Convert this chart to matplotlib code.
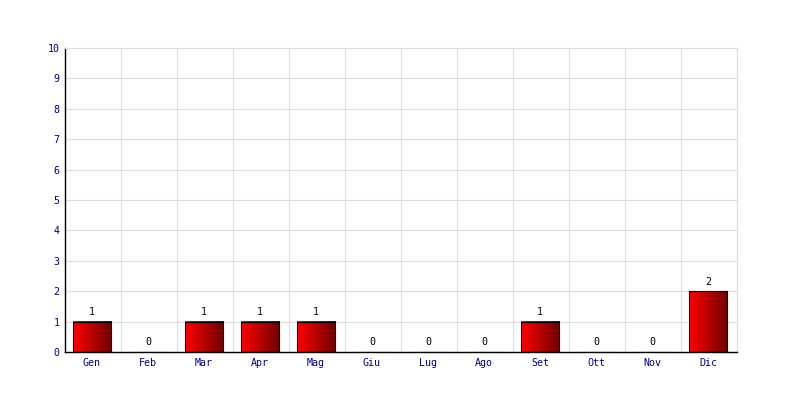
import numpy as np
import matplotlib.pyplot as plt
from matplotlib.colors import LinearSegmentedColormap

months = ["Gen", "Feb", "Mar", "Apr", "Mag", "Giu", "Lug", "Ago", "Set", "Ott", "Nov", "Dic"]
counts = [1, 0, 1, 1, 1, 0, 0, 0, 1, 0, 0, 2]
yticks = list(range(0, 11))

plt.rcParams['font.family'] = ['DejaVu Sans Mono']

fig = plt.figure(figsize=(8, 4), dpi=100)
ax = fig.add_axes([65 / 800, 48 / 400, 672 / 800, 304 / 400])

x = np.arange(len(months))
width = 0.68
grad = LinearSegmentedColormap.from_list("redgrad", ["#ff0000", "#700000"])
g = np.linspace(0, 1, 64).reshape(1, -1)

# bars sit a pixel left of the category centre in the original
bars = ax.bar(x - 0.02, counts, width=width, color="none", edgecolor="black", linewidth=0.8, zorder=3)
for b, v in zip(bars, counts):
    if v > 0:
        x0 = b.get_x()
        ax.imshow(g, cmap=grad, aspect="auto", extent=(x0, x0 + b.get_width(), 0, v), zorder=2)
    ax.text(b.get_x() + b.get_width() / 2, v + 0.15, str(v), ha="center", va="bottom",
            fontsize=7.2, color="black")

ax.set_xlim(-0.5, len(months) - 0.5)
ax.set_ylim(0, 10)
ax.set_xticks(x - 0.02)
ax.set_xticklabels(months)
ax.set_yticks(yticks)
ax.set_xticks(np.arange(-0.5, len(months)), minor=True)
ax.grid(True, which="minor", axis="x", color="#dddddd", linewidth=0.8, zorder=0)
ax.grid(True, which="major", axis="y", color="#dddddd", linewidth=0.8, zorder=0)
ax.tick_params(axis="x", which="both", length=0, labelsize=7.2, labelcolor="#000080", pad=4)
ax.tick_params(axis="y", length=0, labelsize=7.2, labelcolor="#000080", pad=4)

for s in ["top", "right"]:
    ax.spines[s].set_color("#dddddd")
    ax.spines[s].set_linewidth(0.8)
for s in ["left", "bottom"]:
    ax.spines[s].set_color("black")
    ax.spines[s].set_linewidth(1)

fig.savefig("out.png", dpi=100)
